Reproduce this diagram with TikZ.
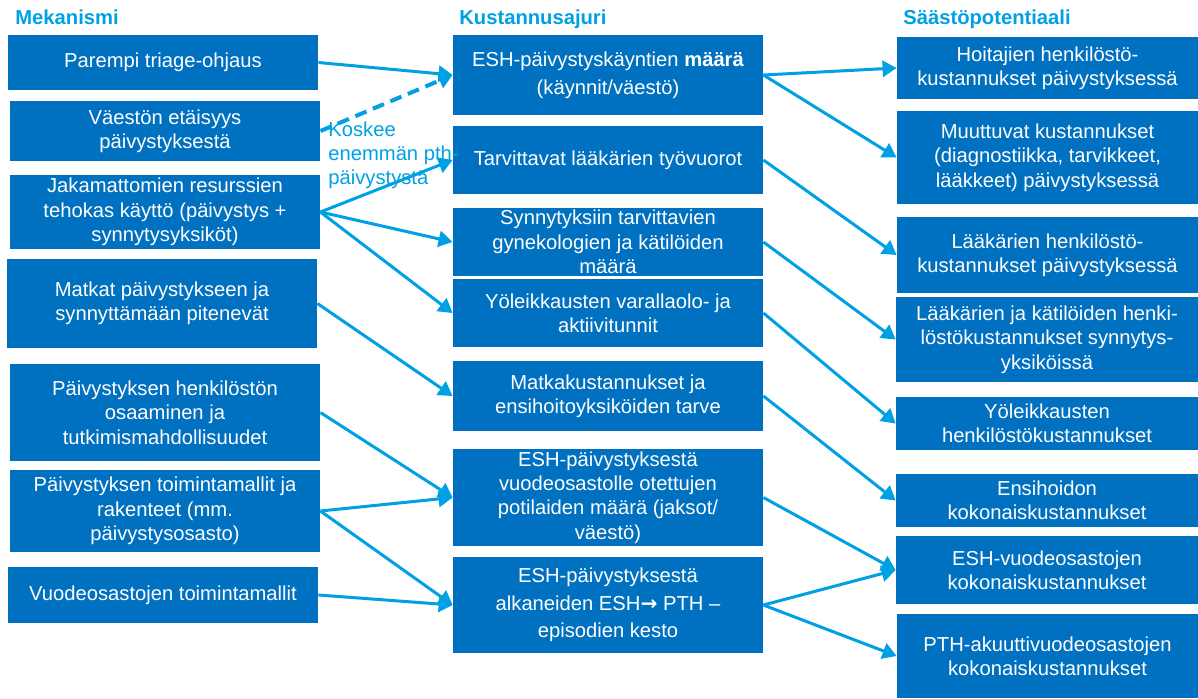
\documentclass[tikz,border=0pt]{standalone}
\usepackage{fontspec}
\setmainfont{Liberation Sans}
\newfontfamily\arrowfont{DejaVu Sans}
\usepackage{tikz}
\usetikzlibrary{arrows.meta}
\definecolor{boxblue}{RGB}{0,112,192}
\definecolor{lineblue}{RGB}{0,160,228}

\begin{document}
\begin{tikzpicture}[x=0.5pt, y=-0.5pt, every node/.style={font=\fontsize{10.1}{12.2}\selectfont}, >={Triangle[length=7pt, width=8pt]},
	box/.style={fill=boxblue, text=white, align=center, inner sep=0pt, minimum width=155pt},
	head/.style={text=lineblue, font=\fontsize{10.1}{12.2}\selectfont\bfseries, anchor=base west, inner sep=0pt},
	arr/.style={->, draw=lineblue, line width=1.5pt}]
	\useasboundingbox (0,0) rectangle (1198,698);
	\node[head] at (15,24) {Mekanismi};
	\node[head] at (459,24) {Kustannusajuri};
	\node[head] at (903,24) {Säästöpotentiaali};
	% mekanismit
	\node[box, minimum height=27.5pt] (mek1) at (163,62.5) {Parempi triage-ohjaus};
	\node[box, minimum height=30pt] (mek2) at (165,131) {Väestön etäisyys\\päivystyksestä};
	\node[box, minimum height=37pt] (mek3) at (165,212) {Jakamattomien resurssien\\tehokas käyttö (päivystys +\\synnytysyksiköt)};
	\node[box, minimum height=44.5pt] (mek4) at (162,303.5) {Matkat päivystykseen ja\\synnyttämään pitenevät};
	\node[box, minimum height=48.5pt] (mek5) at (165,412.5) {Päivystyksen henkilöstön\\osaaminen ja\\tutkimismahdollisuudet};
	\node[box, minimum height=41pt] (mek6) at (165,511) {Päivystyksen toimintamallit ja\\rakenteet (mm.\\päivystysosasto)};
	\node[box, minimum height=28pt] (mek7) at (163,595) {Vuodeosastojen toimintamallit};
	% kustannusajurit
	\node[box, minimum height=40pt] (kus1) at (608,75) {ESH-päivystyskäyntien \textbf{määrä}\\[2pt](käynnit/väestö)};
	\node[box, minimum height=34pt] (kus2) at (608,160) {Tarvittavat lääkärien työvuorot};
	\node[box, minimum height=34pt] (kus3) at (608,242) {Synnytyksiin tarvittavien\\gynekologien ja kätilöiden\\määrä};
	\node[box, minimum height=34pt] (kus4) at (608,313) {Yöleikkausten varallaolo- ja\\aktiivitunnit};
	\node[box, minimum height=35pt] (kus5) at (608,396) {Matkakustannukset ja\\ensihoitoyksiköiden tarve};
	\node[box, minimum height=48.5pt] (kus6) at (608,497.5) {ESH-päivystyksestä\\vuodeosastolle otettujen\\potilaiden määrä (jaksot/\\väestö)};
	\node[box, minimum height=48pt] (kus7) at (608,605) {ESH-päivystyksestä\\[1.5pt]alkaneiden ESH{\arrowfont\bfseries →} PTH –\\[1.5pt]episodien kesto};
	% säästöpotentiaali
	\node[box, minimum width=150.5pt, minimum height=31pt] (saa1) at (1047.5,68) {Hoitajien henkilöstö-\\kustannukset päivystyksessä};
	\node[box, minimum width=150.5pt, minimum height=46.5pt] (saa2) at (1047.5,157.5) {Muuttuvat kustannukset\\(diagnostiikka, tarvikkeet,\\lääkkeet) päivystyksessä};
	\node[box, minimum width=150.5pt, minimum height=38pt] (saa3) at (1047.5,255) {Lääkärien henkilöstö-\\kustannukset päivystyksessä};
	\node[box, minimum width=151pt, minimum height=42.5pt] (saa4) at (1047,339.5) {Lääkärien ja kätilöiden henki-\\löstökustannukset synnytys-\\yksiköissä};
	\node[box, minimum width=151pt, minimum height=26.5pt] (saa5) at (1047,423.5) {Yöleikkausten\\henkilöstökustannukset};
	\node[box, minimum width=151pt, minimum height=26.5pt] (saa6) at (1047,500.5) {Ensihoidon\\kokonaiskustannukset};
	\node[box, minimum width=151pt, minimum height=34pt] (saa7) at (1047,570) {ESH-vuodeosastojen\\kokonaiskustannukset};
	\node[box, minimum width=150.5pt, minimum height=42pt] (saa8) at (1047.5,656) {PTH-akuuttivuodeosastojen\\kokonaiskustannukset};
	\node[text=lineblue, align=left, anchor=north west, inner sep=0pt] (koskee) at (328,121) {Koskee\\enemmän pth-\\päivystystä};
	% nuolet
	\draw[arr] (mek1.east) -- (kus1.west);
	\draw[arr, line width=2pt, dash pattern=on 6pt off 3.5pt] (mek2.east) -- (kus1.west);
	\foreach \t in {2,3,4} {\draw[arr] (mek3.east) -- (kus\t.west);}
	\draw[arr] (mek4.east) -- (kus5.west);
	\draw[arr] (mek5.east) -- (kus6.west);
	\draw[arr] (mek6.east) -- (kus6.west);
	\draw[arr] (mek6.east) -- (kus7.west);
	\draw[arr] (mek7.east) -- (kus7.west);
	\draw[arr] (kus1.east) -- (saa1.west);
	\draw[arr] (kus1.east) -- (saa2.west);
	\foreach \s/\t in {2/3, 3/4, 4/5, 5/6, 6/7} {\draw[arr] (kus\s.east) -- (saa\t.west);}
	\draw[arr] (kus7.east) -- (saa7.west);
	\draw[arr] (kus7.east) -- (saa8.west);
\end{tikzpicture}
\end{document}
